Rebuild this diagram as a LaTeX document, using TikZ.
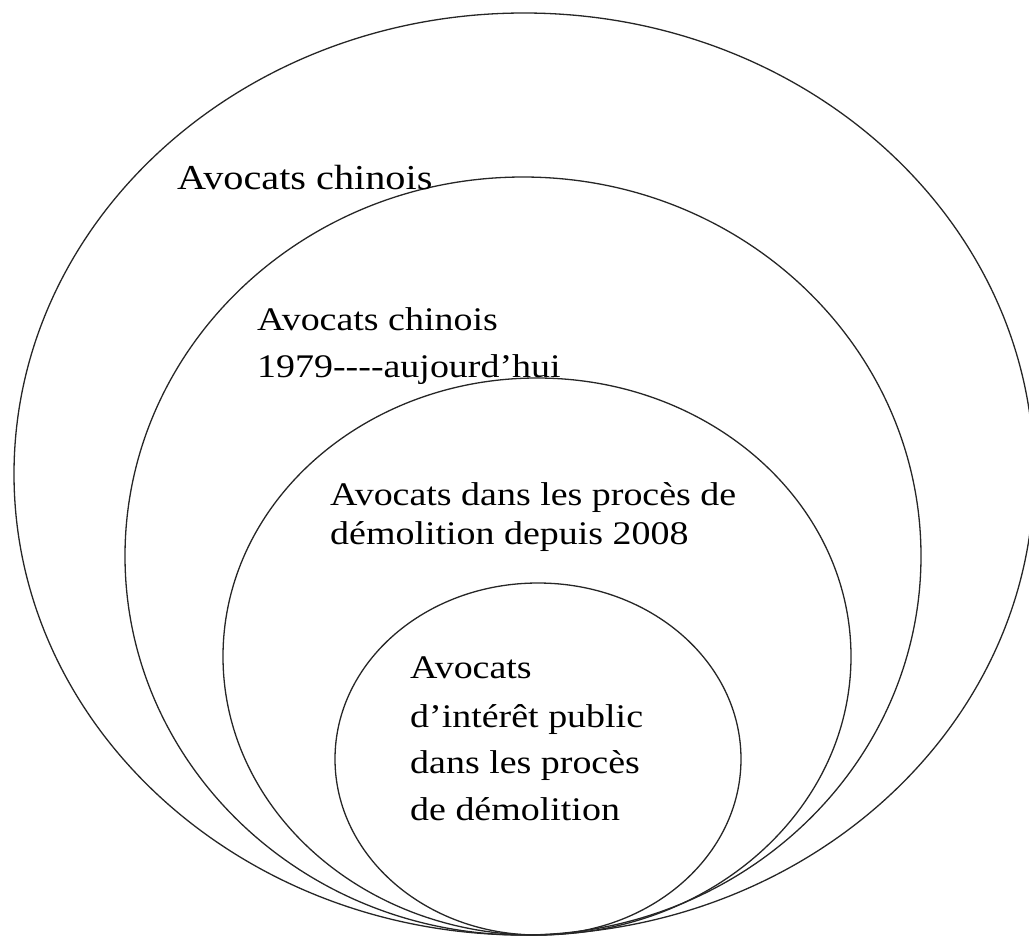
\documentclass[tikz,border=0pt]{standalone}
\usepackage{fontspec}
\setmainfont{Liberation Serif}[FakeStretch=1.15,Ligatures=TeXOff]
\usetikzlibrary{shapes.geometric}
\begin{document}
\begin{tikzpicture}[x=1pt,y=-1pt,
  ring/.style={draw=black!85, line width=1.3pt, ellipse, inner sep=0pt, outer sep=0pt},
  label/.style={anchor=base west, inner sep=0pt, font=\fontsize{33}{40}\selectfont}]
\useasboundingbox (0,0) rectangle (1029,938);
\clip (0,0) rectangle (1029,938);
\node[ring, minimum width=1020pt, minimum height=922pt] (e1) at (524,474) {};
\node[ring, minimum width=796pt, minimum height=758pt] (e2) at (523,556) {};
\node[ring, minimum width=628pt, minimum height=557pt] (e3) at (537,656.5) {};
\node[ring, minimum width=406pt, minimum height=352pt] (e4) at (538,759) {};
\node[label, font=\fontsize{35}{40}\selectfont] (t1) at (177,189) {Avocats chinois};
\node[label] (t2a) at (257,330) {Avocats chinois};
\node[label] (t2b) at (257,377) {1979----aujourd’hui};
\node[label] (t3a) at (330,505) {Avocats dans les procès de};
\node[label] (t3b) at (330,544) {démolition depuis 2008};
\node[label] (t4a) at (410,678) {Avocats};
\node[label] (t4b) at (410,727) {d’intérêt public};
\node[label] (t4c) at (410,773) {dans les procès};
\node[label] (t4d) at (410,820) {de démolition};
\end{tikzpicture}
\end{document}
